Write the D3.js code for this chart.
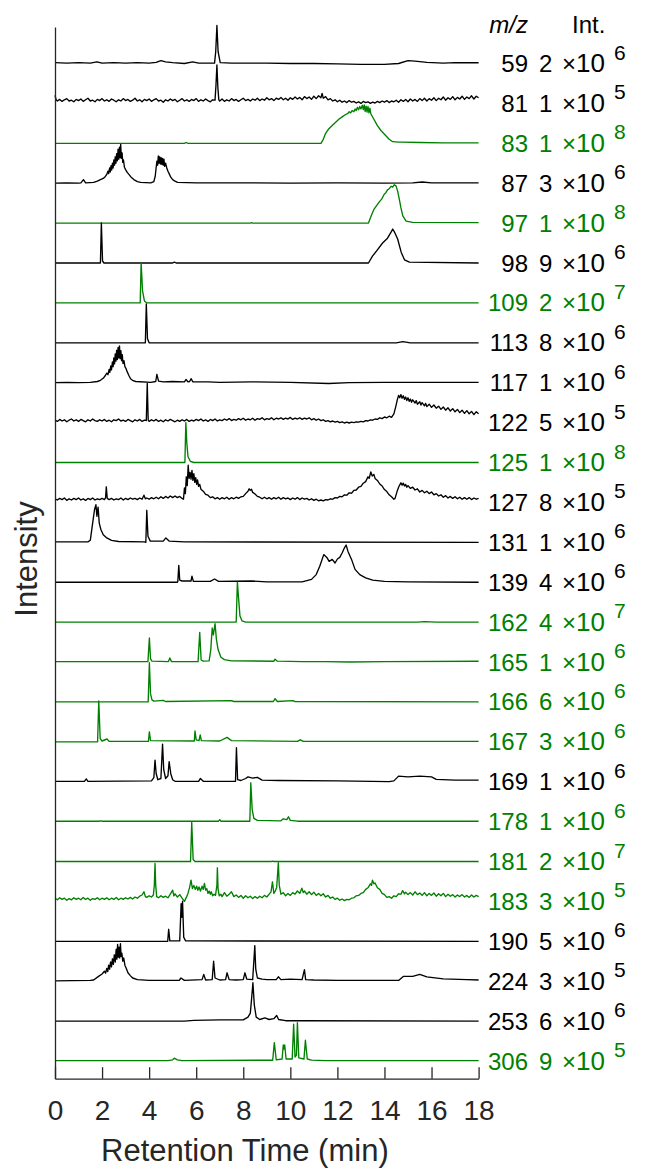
<!DOCTYPE html>
<html><head><meta charset="utf-8">
<script src="https://cdn.jsdelivr.net/npm/d3@7"></script>
<style>
html,body{margin:0;padding:0;background:#fff;}
svg{display:block;font-family:"Liberation Sans",Arial,Helvetica,sans-serif;}
</style></head>
<body><svg id="c" width="645" height="1168"></svg>
<script>
// ---- data (heights in % of each trace's own full scale) ----
const mz    = [59,81,83,87,97,98,109,113,117,122,125,127,131,139,162,165,166,167,169,178,181,183,190,224,253,306];
const coef  = [2,1,1,3,1,9,2,8,1,5,1,8,1,4,4,1,6,3,1,1,2,3,5,3,6,9];
const expo  = [6,5,8,6,8,6,7,6,6,5,8,5,6,6,7,6,6,6,6,6,7,5,6,5,6,5];
const colorKey = ["k","k","g","k","g","k","g","k","k","k","g","k","k","k","g","g","g","g","k","g","g","g","k","k","k","g"];
const xTicks = [0,2,4,6,8,10,12,14,16,18];

const tr59 = [[0,2],[0.5,1],[1,2],[1.5,1],[1.78,4],[2,1],[2.5,2],[3,1],[3.5,2],[4,1],[4.3,3],[4.5,7],[4.7,4],[5,2],[5.5,0],[5.85,4],[6.1,1],[6.78,1],[6.83,30],[6.88,95],[6.93,30],[7.02,2],[7.5,1],[8,1],[9,1],[10,0],[11,0],[12,-1],[13,-2],[14,-2],[14.6,0],[15.0,7],[15.3,6],[15.8,3],[16.5,1],[17,2],[18,2]];
const tr81 = [[0,20],[0.05,9],[0.1,6],[0.2,10],[0.3,5],[0.4,9],[0.5,12],[0.6,6],[0.7,8],[0.8,4],[0.9,10],[1.0,7],[1.1,11],[1.2,5],[1.3,9],[1.4,13],[1.5,6],[1.6,8],[1.7,4],[1.8,10],[1.9,7],[2.0,12],[2.1,6],[2.2,9],[2.3,5],[2.4,11],[2.5,8],[2.6,4],[2.7,9],[2.8,6],[2.9,12],[3.0,7],[3.1,10],[3.2,5],[3.3,8],[3.4,13],[3.5,6],[3.6,9],[3.7,4],[3.8,10],[3.9,7],[4.0,11],[4.1,5],[4.2,9],[4.3,12],[4.4,6],[4.5,8],[4.6,3],[4.7,9],[4.8,6],[4.9,11],[5.0,7],[5.1,10],[5.2,4],[5.3,8],[5.4,12],[5.5,6],[5.6,9],[5.7,5],[5.8,10],[5.9,7],[6.0,12],[6.1,5],[6.2,9],[6.3,6],[6.4,11],[6.5,7],[6.6,4],[6.7,9],[6.8,8],[6.84,45],[6.88,96],[6.92,40],[6.96,9],[7.0,6],[7.1,11],[7.2,5],[7.3,9],[7.4,6],[7.5,12],[7.6,7],[7.7,10],[7.8,5],[7.9,9],[8.0,13],[8.1,7],[8.2,10],[8.3,6],[8.4,11],[8.5,8],[8.6,13],[8.7,7],[8.8,11],[8.9,8],[9.0,14],[9.1,9],[9.2,12],[9.3,7],[9.4,13],[9.5,10],[9.6,15],[9.7,9],[9.8,13],[9.9,8],[10.0,14],[10.1,10],[10.2,16],[10.3,11],[10.4,15],[10.5,9],[10.6,17],[10.7,12],[10.8,16],[10.9,10],[11.0,18],[11.1,12],[11.2,19],[11.3,14],[11.35,25],[11.4,13],[11.5,17],[11.6,9],[11.7,12],[11.8,6],[11.9,9],[12.0,4],[12.1,8],[12.2,3],[12.3,6],[12.4,2],[12.5,7],[12.6,3],[12.7,5],[12.8,1],[12.9,4],[13.0,0],[13.1,5],[13.2,2],[13.3,4],[13.4,0],[13.5,3],[13.6,1],[13.7,5],[13.8,2],[13.9,6],[14.0,3],[14.1,7],[14.2,2],[14.3,6],[14.4,4],[14.5,8],[14.6,3],[14.7,9],[14.8,5],[14.9,10],[15.0,4],[15.1,11],[15.2,6],[15.3,10],[15.4,5],[15.5,12],[15.6,7],[15.7,13],[15.8,6],[15.9,12],[16.0,8],[16.1,14],[16.2,7],[16.3,13],[16.4,9],[16.5,16],[16.6,8],[16.7,14],[16.8,10],[16.9,17],[17.0,9],[17.1,15],[17.2,11],[17.3,18],[17.4,10],[17.5,16],[17.6,12],[17.7,19],[17.8,11],[17.9,18],[18.0,14]];
const tr83 = [[0,0],[5.5,0],[5.57,2],[5.65,0],[11.3,0],[11.4,10],[11.5,25],[11.63,36],[11.8,46],[11.95,54],[12.06,60],[12.2,66],[12.35,72],[12.45,75],[12.5,79],[12.56,76],[12.63,82],[12.7,79],[12.75,86],[12.8,82],[12.85,90],[12.9,84],[12.95,92],[13.0,86],[13.06,95],[13.1,84],[13.14,96],[13.18,80],[13.22,93],[13.26,78],[13.3,92],[13.34,76],[13.38,88],[13.42,74],[13.55,60],[13.7,44],[13.85,32],[14.06,19],[14.2,10],[14.35,4],[14.6,3],[14.78,3],[15.5,2],[16.5,1],[18,1]];
const tr87 = [[0,0],[0.5,1],[1,0],[1.1,1],[1.21,9],[1.3,1],[1.64,2],[1.8,5],[1.93,9],[2.05,12],[2.14,17],[2.2,22],[2.25,30],[2.28,24],[2.32,38],[2.35,28],[2.38,44],[2.41,33],[2.44,50],[2.47,38],[2.5,58],[2.53,45],[2.56,66],[2.59,50],[2.62,74],[2.65,56],[2.68,85],[2.71,60],[2.74,90],[2.77,64],[2.79,97],[2.82,62],[2.85,76],[2.88,52],[2.91,58],[2.95,40],[3.0,34],[3.07,27],[3.14,22],[3.25,14],[3.35,9],[3.5,4],[3.64,2],[4.07,1],[4.2,4],[4.26,18],[4.3,40],[4.33,55],[4.36,45],[4.39,68],[4.42,50],[4.45,66],[4.48,48],[4.51,64],[4.54,47],[4.57,62],[4.6,45],[4.63,60],[4.66,42],[4.7,50],[4.75,38],[4.8,30],[4.85,24],[4.92,15],[5.0,9],[5.1,5],[5.21,2],[6,1],[8,1],[10,0],[12,1],[14,0],[15.2,1],[15.6,3],[16,1],[18,1]];
const tr97 = [[0,0],[8.3,0],[8.35,1],[8.4,0],[13.32,0],[13.45,20],[13.56,35],[13.68,45],[13.78,53],[13.88,60],[13.99,72],[14.06,76],[14.13,83],[14.2,86],[14.28,92],[14.35,90],[14.42,96],[14.49,93],[14.56,80],[14.63,60],[14.7,38],[14.78,18],[14.92,5],[15.2,2],[18,1]];
const tr98 = [[0,0],[1.93,0],[1.97,100],[2.02,5],[2.08,0],[5.0,0],[5.07,2],[5.15,0],[13.32,0],[13.49,17],[13.7,33],[13.92,50],[14.13,62],[14.28,77],[14.35,85],[14.42,78],[14.56,60],[14.71,27],[14.85,8],[15.06,2],[18,0]];
const tr109 = [[0,0],[3.62,0],[3.66,100],[3.72,30],[3.8,5],[3.9,0],[18,0]];
const tr113 = [[0,0],[3.84,0],[3.88,97],[3.93,10],[4.0,0],[14.5,0],[14.78,3],[15.1,0],[18,0]];
const tr117 = [[0,0],[0.5,1],[1,0],[1.5,1],[1.8,3],[1.93,6],[2.05,11],[2.14,18],[2.2,24],[2.25,20],[2.3,33],[2.33,26],[2.37,42],[2.4,32],[2.44,52],[2.47,40],[2.5,62],[2.53,47],[2.56,72],[2.59,54],[2.62,81],[2.65,58],[2.68,88],[2.71,62],[2.74,92],[2.77,60],[2.8,80],[2.83,55],[2.86,70],[2.89,48],[2.93,55],[2.97,40],[3.02,35],[3.07,27],[3.14,18],[3.21,10],[3.32,5],[3.43,3],[4.07,1],[4.28,3],[4.33,21],[4.4,4],[4.6,2],[5.0,3],[5.5,2],[5.57,8],[5.65,2],[5.72,3],[5.78,10],[5.86,2],[6.5,2],[7,1],[8.35,2],[10,1],[11.63,-2],[12.5,0],[14,1],[18,1]];
const tr122 = [[0,6],[0.1,3],[0.2,8],[0.3,4],[0.4,7],[0.5,2],[0.6,6],[0.7,9],[0.8,4],[0.9,7],[1.0,3],[1.1,8],[1.2,5],[1.3,2],[1.4,7],[1.5,4],[1.6,9],[1.7,5],[1.8,3],[1.9,7],[2.0,4],[2.1,8],[2.2,3],[2.3,6],[2.4,2],[2.5,7],[2.6,5],[2.7,9],[2.8,4],[2.9,6],[3.0,3],[3.1,8],[3.2,5],[3.3,2],[3.4,7],[3.5,4],[3.6,8],[3.7,3],[3.8,6],[3.88,5],[3.92,98],[3.96,6],[4.0,3],[4.1,7],[4.2,4],[4.3,8],[4.4,3],[4.5,6],[4.6,2],[4.7,7],[4.8,4],[4.9,8],[5.0,5],[5.1,2],[5.2,6],[5.3,3],[5.4,7],[5.5,4],[5.6,8],[5.7,3],[5.8,6],[5.9,4],[6.0,8],[6.1,5],[6.2,9],[6.3,4],[6.4,7],[6.5,3],[6.6,8],[6.7,5],[6.8,9],[6.9,4],[7.0,7],[7.1,5],[7.2,9],[7.3,6],[7.4,10],[7.5,5],[7.6,8],[7.7,6],[7.8,10],[7.9,7],[8.0,11],[8.1,6],[8.2,9],[8.3,7],[8.4,11],[8.5,6],[8.6,10],[8.7,8],[8.8,12],[8.9,7],[9.0,10],[9.1,8],[9.2,12],[9.3,7],[9.4,11],[9.5,9],[9.6,12],[9.7,8],[9.8,11],[9.9,9],[10.0,13],[10.1,8],[10.2,11],[10.3,9],[10.4,12],[10.5,8],[10.6,11],[10.7,9],[10.8,12],[10.9,7],[11.0,10],[11.1,6],[11.2,9],[11.3,5],[11.4,7],[11.5,3],[11.6,5],[11.7,2],[11.8,4],[11.9,1],[12.0,3],[12.1,0],[12.2,2],[12.3,-1],[12.4,1],[12.5,-1],[12.6,1],[12.7,0],[12.8,2],[12.9,1],[13.0,3],[13.1,2],[13.2,5],[13.3,4],[13.4,7],[13.5,6],[13.6,9],[13.7,8],[13.8,12],[13.9,10],[14.0,14],[14.1,12],[14.2,16],[14.3,13],[14.4,22],[14.48,40],[14.55,58],[14.6,68],[14.65,62],[14.7,70],[14.75,61],[14.8,67],[14.85,58],[14.9,64],[14.95,55],[15.0,62],[15.05,53],[15.1,59],[15.15,51],[15.2,57],[15.3,49],[15.35,55],[15.4,46],[15.5,52],[15.55,44],[15.6,50],[15.7,42],[15.75,48],[15.8,40],[15.9,46],[16.0,38],[16.1,44],[16.2,36],[16.3,41],[16.4,33],[16.5,39],[16.6,31],[16.7,37],[16.8,29],[16.9,35],[17.0,27],[17.1,33],[17.2,25],[17.3,31],[17.4,23],[17.5,30],[17.6,22],[17.7,28],[17.8,20],[17.9,27],[18.0,22]];
const tr125 = [[0,0],[5.52,0],[5.56,100],[5.6,50],[5.65,15],[5.75,3],[5.9,0],[18,0]];
const tr127 = [[0,9],[0.1,6],[0.2,10],[0.3,7],[0.4,11],[0.5,5],[0.6,9],[0.7,6],[0.8,10],[0.9,7],[1.0,11],[1.1,6],[1.2,9],[1.3,5],[1.4,10],[1.5,7],[1.6,11],[1.7,6],[1.8,9],[1.9,7],[2.0,10],[2.1,7],[2.15,12],[2.18,39],[2.22,10],[2.3,7],[2.4,10],[2.5,6],[2.6,9],[2.7,7],[2.8,11],[2.9,6],[3.0,10],[3.1,7],[3.2,11],[3.3,8],[3.4,10],[3.5,7],[3.6,11],[3.7,8],[3.78,18],[3.84,9],[3.9,11],[4.0,8],[4.1,12],[4.2,9],[4.3,13],[4.4,9],[4.5,14],[4.6,10],[4.7,15],[4.8,11],[4.9,16],[5.0,12],[5.1,16],[5.2,12],[5.3,15],[5.4,10],[5.46,8],[5.5,36],[5.54,22],[5.58,64],[5.62,42],[5.66,93],[5.7,60],[5.74,75],[5.78,58],[5.82,80],[5.86,55],[5.9,72],[5.94,50],[5.98,62],[6.02,45],[6.06,56],[6.1,40],[6.15,45],[6.2,33],[6.3,28],[6.4,20],[6.5,18],[6.6,12],[6.7,14],[6.8,9],[6.9,12],[7.0,8],[7.1,12],[7.2,9],[7.3,13],[7.4,8],[7.5,12],[7.6,9],[7.7,13],[7.8,10],[7.9,14],[8.0,15],[8.1,22],[8.2,28],[8.25,34],[8.3,30],[8.35,33],[8.4,25],[8.5,21],[8.6,15],[8.7,13],[8.8,9],[8.9,13],[9.0,9],[9.1,12],[9.2,8],[9.3,12],[9.4,9],[9.5,13],[9.6,8],[9.7,12],[9.8,9],[9.9,11],[10.0,7],[10.1,11],[10.2,8],[10.3,12],[10.4,7],[10.5,11],[10.6,8],[10.7,10],[10.8,6],[10.9,9],[11.0,5],[11.1,8],[11.2,4],[11.3,6],[11.4,4],[11.5,7],[11.6,6],[11.7,9],[11.8,8],[11.9,12],[12.0,11],[12.1,15],[12.2,14],[12.3,19],[12.4,18],[12.5,24],[12.6,23],[12.7,30],[12.8,31],[12.9,38],[13.0,40],[13.1,48],[13.2,52],[13.3,64],[13.35,60],[13.42,76],[13.48,66],[13.55,70],[13.6,60],[13.7,55],[13.8,46],[13.9,41],[14.0,32],[14.1,27],[14.2,19],[14.3,14],[14.4,8],[14.45,10],[14.5,20],[14.55,30],[14.6,38],[14.65,44],[14.7,49],[14.75,43],[14.8,48],[14.85,41],[14.9,45],[14.95,38],[15.0,42],[15.1,35],[15.2,38],[15.3,31],[15.4,34],[15.5,26],[15.6,30],[15.7,24],[15.8,28],[15.9,22],[16.0,26],[16.1,19],[16.2,22],[16.3,16],[16.4,19],[16.5,13],[16.6,17],[16.7,11],[16.8,15],[16.9,10],[17.0,14],[17.1,9],[17.2,13],[17.3,8],[17.4,12],[17.5,8],[17.6,12],[17.7,7],[17.8,11],[17.9,8],[18.0,10]];
const tr131 = [[0,1],[1.4,1],[1.5,5],[1.6,48],[1.68,82],[1.74,94],[1.78,65],[1.83,88],[1.88,48],[1.95,32],[2.05,19],[2.2,11],[2.4,5],[2.7,2],[3.8,1],[3.86,0],[3.9,80],[3.95,15],[4.05,3],[4.6,3],[4.71,11],[4.85,3],[5.5,1],[18,0]];
const tr139 = [[0,0],[5.2,0],[5.22,2],[5.26,42],[5.3,5],[5.4,3],[5.78,3],[5.82,15],[5.88,2],[6.6,2],[6.78,8],[6.95,2],[8.35,3],[9,1],[10.5,1],[10.9,7],[11.1,19],[11.25,40],[11.42,69],[11.55,62],[11.65,52],[11.78,57],[11.9,48],[12.0,58],[12.1,62],[12.2,73],[12.3,86],[12.37,93],[12.45,77],[12.6,57],[12.75,32],[12.95,19],[13.2,11],[13.5,5],[14,2],[15,1],[18,0]];
const tr162 = [[0,0],[7.7,0],[7.75,100],[7.8,60],[7.86,15],[7.95,3],[8.1,0],[15.4,0],[15.7,1],[16.2,0],[18,0]];
const tr165 = [[0,1],[3.95,1],[4.01,60],[4.06,8],[4.12,2],[4.82,1],[4.88,10],[4.95,1],[6.08,1],[6.15,74],[6.21,5],[6.3,2],[6.55,3],[6.62,31],[6.68,85],[6.73,68],[6.8,96],[6.86,56],[6.93,31],[7.05,12],[7.2,6],[7.5,3],[9.3,2],[9.35,7],[9.45,2],[10.5,1],[11.5,1],[12.5,0],[14,1],[18,2]];
const tr166 = [[0,0],[3.96,0],[4.01,98],[4.06,20],[4.12,5],[4.2,2],[4.6,4],[4.7,1],[7.5,3],[7.6,1],[9.28,1],[9.35,8],[9.45,1],[10.1,3],[10.2,1],[18,0]];
const tr167 = [[0,0],[1.81,0],[1.86,102],[1.92,8],[2.0,2],[2.21,7],[2.3,1],[3.97,1],[4.01,25],[4.06,3],[5.92,2],[5.95,27],[6.0,5],[6.12,3],[6.17,17],[6.22,3],[7.0,2],[7.31,11],[7.5,3],[10.3,1],[10.42,5],[10.55,1],[18,1]];
const tr169 = [[0,1],[1.25,1],[1.33,7],[1.4,1],[4.1,2],[4.2,10],[4.25,54],[4.3,20],[4.37,5],[4.5,8],[4.57,94],[4.62,30],[4.7,8],[4.8,15],[4.85,50],[4.92,20],[5.0,5],[5.1,1],[6.1,1],[6.18,8],[6.3,1],[7.67,1],[7.71,85],[7.76,5],[7.9,3],[8.1,8],[8.2,12],[8.4,9],[8.6,11],[8.8,4],[9.5,3],[12,2],[14.2,0],[14.4,2],[14.6,14],[15,12],[15.5,14],[16,12],[16.2,6],[17,4],[18,4]];
const tr178 = [[0,1],[1.88,1],[1.93,2],[2.0,1],[6.95,1],[7.0,5],[7.05,1],[8.28,1],[8.32,97],[8.38,30],[8.45,8],[8.6,3],[9.6,2],[9.7,7],[9.85,5],[9.92,12],[10.0,3],[10.3,1],[18,1]];
const tr181 = [[0,0],[5.76,0],[5.81,98],[5.87,5],[5.95,0],[9.2,0],[9.24,1],[9.3,0],[18,0]];
const tr183 = [[0,8],[0.1,4],[0.2,9],[0.3,5],[0.4,8],[0.5,3],[0.6,7],[0.7,4],[0.8,9],[0.9,5],[1.0,8],[1.1,4],[1.2,10],[1.3,5],[1.4,8],[1.5,3],[1.6,7],[1.7,5],[1.8,9],[1.9,4],[2.0,8],[2.1,5],[2.2,9],[2.3,4],[2.4,8],[2.5,5],[2.6,10],[2.7,4],[2.8,8],[2.9,5],[3.0,9],[3.1,6],[3.2,10],[3.3,6],[3.4,11],[3.5,8],[3.6,13],[3.7,16],[3.78,24],[3.84,12],[3.9,10],[4.0,14],[4.1,11],[4.18,16],[4.22,40],[4.25,95],[4.28,40],[4.32,12],[4.4,9],[4.5,14],[4.6,10],[4.7,13],[4.8,9],[4.9,18],[5.0,28],[5.05,14],[5.1,19],[5.2,11],[5.3,17],[5.4,8],[5.5,0],[5.58,10],[5.65,20],[5.72,35],[5.78,53],[5.84,32],[5.9,40],[5.96,30],[6.02,38],[6.07,28],[6.12,36],[6.18,26],[6.25,38],[6.3,30],[6.35,45],[6.4,28],[6.45,32],[6.5,20],[6.55,26],[6.6,18],[6.64,24],[6.7,14],[6.76,18],[6.82,15],[6.88,40],[6.9,84],[6.93,30],[6.98,14],[7.05,18],[7.1,12],[7.2,22],[7.3,13],[7.4,18],[7.5,24],[7.6,12],[7.7,16],[7.8,10],[7.9,15],[8.0,8],[8.1,14],[8.2,9],[8.3,13],[8.4,7],[8.5,12],[8.6,8],[8.7,13],[8.8,9],[8.9,15],[9.0,11],[9.1,18],[9.18,24],[9.24,49],[9.3,20],[9.36,26],[9.42,35],[9.46,70],[9.49,97],[9.53,40],[9.6,18],[9.7,22],[9.8,14],[9.9,20],[10.0,15],[10.1,22],[10.2,18],[10.3,26],[10.4,20],[10.49,33],[10.55,22],[10.6,26],[10.7,18],[10.8,24],[10.9,17],[11.0,23],[11.1,15],[11.2,20],[11.3,14],[11.4,19],[11.5,11],[11.6,15],[11.7,8],[11.8,11],[11.9,5],[12.0,8],[12.1,3],[12.2,6],[12.3,2],[12.4,5],[12.5,4],[12.6,8],[12.7,9],[12.8,14],[12.9,15],[13.0,20],[13.1,22],[13.2,30],[13.3,34],[13.4,44],[13.45,40],[13.49,53],[13.55,44],[13.6,46],[13.7,34],[13.8,30],[13.9,20],[14.0,17],[14.1,10],[14.2,12],[14.3,8],[14.4,14],[14.5,12],[14.6,19],[14.7,18],[14.77,27],[14.85,19],[14.9,23],[15.0,17],[15.1,22],[15.2,16],[15.3,24],[15.4,17],[15.5,21],[15.6,15],[15.7,22],[15.8,14],[15.9,20],[16.0,15],[16.1,21],[16.2,13],[16.3,19],[16.4,14],[16.5,20],[16.6,12],[16.7,18],[16.8,13],[16.9,17],[17.0,11],[17.1,16],[17.2,12],[17.3,17],[17.4,11],[17.5,15],[17.6,10],[17.7,16],[17.8,11],[17.9,15],[18.0,12]];
const tr190 = [[0,0],[4.79,0],[4.83,30],[4.88,1],[5.3,1],[5.36,94],[5.39,60],[5.42,100],[5.47,10],[5.55,1],[18,0]];
const tr224 = [[0,1],[1.5,2],[1.64,3],[1.85,12],[2.0,18],[2.1,25],[2.15,20],[2.2,32],[2.24,24],[2.28,40],[2.32,30],[2.36,48],[2.4,36],[2.44,56],[2.48,42],[2.52,66],[2.56,48],[2.6,80],[2.63,55],[2.66,92],[2.69,60],[2.72,85],[2.75,58],[2.78,94],[2.81,62],[2.84,70],[2.88,50],[2.92,58],[2.97,40],[3.03,32],[3.1,21],[3.2,14],[3.3,8],[3.5,4],[4,2],[5.28,2],[5.35,8],[5.5,2],[6.25,4],[6.32,17],[6.4,3],[6.68,4],[6.74,50],[6.8,8],[7.0,3],[7.25,4],[7.31,21],[7.4,4],[7.7,3],[8.0,4],[8.07,21],[8.15,5],[8.4,4],[8.46,60],[8.49,89],[8.53,30],[8.6,8],[8.8,5],[9.0,4],[9.4,4],[9.49,11],[9.6,4],[10.0,5],[10.5,4],[10.6,29],[10.65,4],[11,3],[12,2],[14,2],[14.6,2],[14.8,12],[15.2,12],[15.5,17],[15.8,11],[16.5,6],[17.5,4],[18,3]];
const tr253 = [[0,0],[5.5,0],[5.9,2],[7,3],[8.0,3],[8.2,10],[8.3,20],[8.36,60],[8.41,96],[8.47,40],[8.55,10],[8.7,4],[8.92,8],[9.1,4],[9.3,6],[9.42,14],[9.5,4],[9.8,1],[10.5,1],[18,0]];
const tr306 = [[0,1],[4.8,1],[5.0,3],[5.07,7],[5.2,3],[5.4,1],[9.25,2],[9.32,46],[9.4,3],[9.65,5],[9.7,40],[9.73,30],[9.76,40],[9.82,5],[10.08,5],[10.14,92],[10.2,10],[10.26,15],[10.3,96],[10.36,8],[10.58,5],[10.64,52],[10.72,5],[10.9,2],[11.5,1],[18,1]];
const traces = [tr59,tr81,tr83,tr87,tr97,tr98,tr109,tr113,tr117,tr122,tr125,tr127,tr131,tr139,tr162,tr165,tr166,tr167,tr169,tr178,tr181,tr183,tr190,tr224,tr253,tr306];

// ---- drawing ----
const colors = {k:"#000000", g:"#008000"};
const axisCol = "#262626";
const svg = d3.select("#c");

const x = d3.scaleLinear().domain([0,18]).range([55,478.6]);
const row = d3.scalePoint().domain(mz).range([63.5,1061]);
const fullScale = 40;

// traces
traces.forEach((tr,i)=>{
  const base = row(mz[i]);
  const y = d3.scaleLinear().domain([0,100]).range([base, base-fullScale]);
  const line = d3.line().x(d=>x(d[0])).y(d=>y(d[1]));
  svg.append("path").datum(tr)
    .attr("d",line).attr("fill","none")
    .attr("stroke",colors[colorKey[i]])
    .attr("stroke-width",1.35)
    .attr("stroke-linejoin","round");
});

// axes
const yAxisScale = d3.scaleLinear().domain([0,1]).range([1078.7,27]);
svg.append("g").attr("transform","translate(55,0)")
  .call(d3.axisLeft(yAxisScale).tickValues([]).tickSizeOuter(0))
  .call(g=>g.select(".domain").attr("stroke",axisCol).attr("stroke-width",1.3));

const xa = svg.append("g").attr("transform","translate(0,1078.7)")
  .call(d3.axisBottom(x).tickValues(xTicks).tickSizeInner(-11.5).tickSizeOuter(0).tickPadding(21).tickFormat(d3.format("d")));
xa.select(".domain").attr("stroke",axisCol).attr("stroke-width",1.3);
xa.selectAll(".tick line").attr("stroke",axisCol).attr("stroke-width",1.3);
xa.selectAll(".tick text").attr("fill",axisCol).attr("font-size",28)
  .attr("font-family","'Liberation Sans',Arial,sans-serif");

// axis labels
svg.append("text").attr("x",101).attr("y",1161).attr("font-size",31).attr("fill",axisCol)
  .text("Retention Time (min)");
svg.append("text").attr("transform","translate(37,559) rotate(-90)")
  .attr("text-anchor","middle").attr("font-size",31).attr("fill",axisCol).text("Intensity");

// header
svg.append("text").attr("x",528).attr("y",33).attr("text-anchor","end")
  .attr("font-size",24).attr("font-style","italic").attr("fill","#000").text("m/z");
svg.append("text").attr("x",572).attr("y",33)
  .attr("font-size",24).attr("fill","#000").text("Int.");

// right-hand labels
const lab = svg.append("g");
mz.forEach((m,i)=>{
  const yy = row(m);
  const col = colors[colorKey[i]];
  lab.append("text").attr("x",528).attr("y",yy+8.5).attr("text-anchor","end")
    .attr("font-size",24).attr("fill",col).text(m);
  lab.append("text").attr("x",539).attr("y",yy+8.5)
    .attr("font-size",24).attr("fill",col).text(coef[i]);
  lab.append("text").attr("x",562).attr("y",yy+8.5)
    .attr("font-size",24).attr("fill",col).text("\u00D7");
  lab.append("text").attr("x",576).attr("y",yy+8.5)
    .attr("font-size",26).attr("fill",col).text("10");
  lab.append("text").attr("x",614).attr("y",yy-4)
    .attr("font-size",21).attr("fill",col).text(expo[i]);
});
</script>
</body></html>
